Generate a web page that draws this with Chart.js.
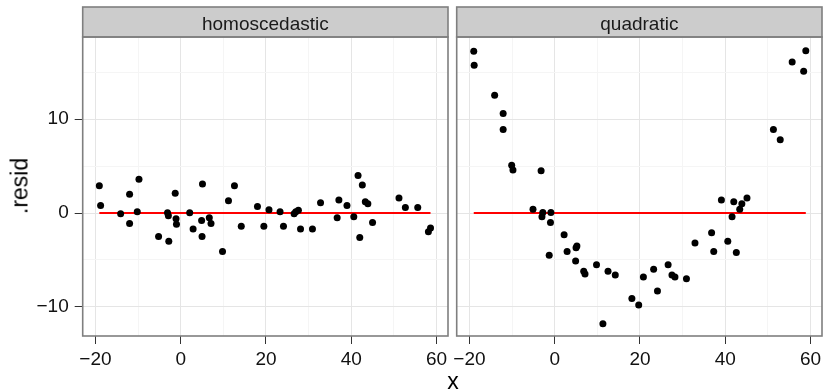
<!DOCTYPE html>
<html lang="en">
<head>
  <meta charset="UTF-8" />
  <title>Residuals: homoscedastic vs quadratic</title>
  <script src="https://cdn.jsdelivr.net/npm/chart.js"></script>
  <style>
    body {
      margin: 0;
      background: #fff;
      font-family: "Liberation Sans", Arial, sans-serif;
    }
    #wrap {
      position: relative;
      width: 826px;
      height: 391px;
      overflow: hidden;
    }
    canvas { position: absolute; top: 0; }
    #leftPanel { left: 0; }
    #rightPanel { left: 452px; }
    .axis-title {
      position: absolute;
      font-size: 23px;
      line-height: 23px;
      color: #000;
      white-space: nowrap;
    }
    #yTitle { left: 20px; top: 186px; transform: translate(-50%, -50%) rotate(-90deg); }
    #xTitle { left: 453px; top: 370px; transform: translateX(-50%); }
  </style>
</head>
<body>
  <div id="wrap">
    <canvas id="leftPanel" width="452" height="391"></canvas>
    <canvas id="rightPanel" width="374" height="391"></canvas>
    <div class="axis-title" id="yTitle">.resid</div>
    <div class="axis-title" id="xTitle">x</div>
  </div>

<script>
  // facet labels
  const panelLabels = ['homoscedastic', 'quadratic'];

  // homoscedastic panel
  const homoX = [-19.1, -18.8, -14.1, -12.0, -12.0, -10.2, -9.8, -5.2, -3.1, -2.9,
                 -2.8, -1.3, -1.1, -1.0, 2.1, 2.9, 4.9, 5.0, 5.1, 6.7,
                 7.1, 9.8, 11.2, 12.6, 14.2, 18.0, 19.5, 20.7, 23.3, 24.1,
                 26.6, 27.0, 27.6, 28.1, 30.9, 32.8, 36.7, 37.1, 39.0, 40.6,
                 41.6, 42.0, 42.6, 43.3, 43.9, 45.0, 51.2, 52.7, 55.6, 58.1, 58.6];
  const homoY = [2.9, 0.8, -0.07, 2.0, -1.1, 0.14, 3.6, -2.5, 0.03, -0.3,
                 -3.0, 2.1, -0.6, -1.2, 0.03, -1.7, -0.8, -2.5, 3.1, -0.5,
                 -1.1, -4.1, 1.3, 2.9, -1.4, 0.7, -1.4, 0.36, 0.14, -1.4,
                 -0.07, 0.14, 0.3, -1.7, -1.7, 1.1, -0.5, 1.4, 0.8, -0.4,
                 4.0, -2.6, 3.0, 1.2, 1.0, -1.0, 1.6, 0.6, 0.6, -2.0, -1.6];

  // quadratic panel
  const quadX = [-19.0, -18.9, -14.1, -12.1, -12.1, -10.1, -9.8, -5.1, -3.2, -3.0,
                 -2.8, -1.3, -1.0, -0.9, 2.2, 2.9, 4.9, 5.0, 5.2, 6.8,
                 7.1, 9.8, 11.3, 12.5, 14.2, 18.1, 19.7, 20.8, 23.2, 24.1,
                 26.6, 27.5, 28.2, 30.9, 32.9, 36.8, 37.3, 39.1, 40.6, 41.6,
                 42.0, 42.6, 43.4, 43.9, 45.1, 51.3, 52.9, 55.7, 58.4, 58.9];
  const quadY = [17.25, 15.75, 12.55, 10.6, 8.9, 5.1, 4.6, 0.4, 4.5, -0.4,
                 0.07, -4.5, -1.0, 0.07, -2.3, -4.1, -5.1, -3.7, -3.5, -6.2,
                 -6.5, -5.5, -11.8, -6.2, -6.6, -9.1, -9.8, -6.8, -6.0, -8.3,
                 -5.5, -6.6, -6.8, -7.0, -3.2, -2.1, -4.1, 1.4, -3.0, -0.4,
                 1.2, -4.2, 0.4, 1.0, 1.6, 8.9, 7.8, 16.1, 15.1, 17.3];

  // axis ticks
  const xMajor = [-20, 0, 20, 40, 60];
  const xMinor = [-10, 10, 30, 50];
  const yMajor = [-10, 0, 10];
  const yMinor = [-5, 5, 15];

  Chart.defaults.font.family = '"Liberation Sans", Arial, sans-serif';
  Chart.defaults.font.size = 19;
  Chart.defaults.color = '#111';

  const fmt = v => (v < 0 ? '\u2212' + Math.abs(v) : String(v));

  // grey strip on top + panel border, ggplot theme_bw style
  const facetFrame = {
    id: 'facetFrame',
    afterDraw(chart, args, opts) {
      const { ctx, chartArea: a } = chart;
      ctx.save();
      ctx.fillStyle = '#cccccc';
      ctx.fillRect(a.left, 7, a.right - a.left, a.top - 7);
      ctx.strokeStyle = '#7f7f7f';
      ctx.lineWidth = 1.6;
      ctx.strokeRect(a.left, 7, a.right - a.left, a.top - 7);
      ctx.strokeRect(a.left, a.top, a.right - a.left, a.bottom - a.top);
      ctx.fillStyle = '#1a1a1a';
      ctx.font = '19px "Liberation Sans", Arial, sans-serif';
      ctx.textAlign = 'center';
      ctx.textBaseline = 'alphabetic';
      ctx.fillText(opts.label, (a.left + a.right) / 2, 29.5);
      ctx.restore();
    }
  };

  function gridColor(major) {
    return ctx => (ctx.tick && major.includes(ctx.tick.value) ? '#e5e5e5' : '#f5f5f5');
  }
  function tickColor(major) {
    return ctx => (ctx.tick && major.includes(ctx.tick.value) ? '#333' : 'rgba(0,0,0,0)');
  }

  function makePanel(id, xs, ys, label, showYLabels, pad, yWidth) {
    const points = xs.map((x, i) => ({ x: x, y: ys[i] }));
    const lo = Math.min(...xs), hi = Math.max(...xs);

    return new Chart(document.getElementById(id), {
      type: 'scatter',
      data: {
        datasets: [
          {
            data: points,
            order: 0,
            backgroundColor: '#000',
            borderWidth: 0,
            pointRadius: 3.5
          },
          {
            type: 'line',
            data: [{ x: lo, y: 0 }, { x: hi, y: 0 }],
            order: 1,
            borderColor: '#ff0000',
            borderWidth: 2,
            pointRadius: 0,
            fill: false
          }
        ]
      },
      options: {
        responsive: false,
        animation: false,
        events: [],
        layout: { padding: pad },
        plugins: {
          legend: { display: false },
          tooltip: { enabled: false },
          facetFrame: { label: label }
        },
        scales: {
          x: {
            type: 'linear',
            min: -23.0,
            max: 62.7,
            border: { display: false },
            afterBuildTicks: s => {
              s.ticks = xMajor.concat(xMinor).sort((a, b) => a - b).map(v => ({ value: v }));
            },
            afterFit: s => { s.height = 55; s.paddingLeft = 0; s.paddingRight = 0; },
            grid: { color: gridColor(xMajor), tickColor: tickColor(xMajor), tickLength: 8, lineWidth: 1 },
            ticks: {
              autoSkip: false,
              maxRotation: 0,
              padding: 4,
              callback: v => (xMajor.includes(v) ? fmt(v) : '')
            }
          },
          y: {
            type: 'linear',
            min: -13.1,
            max: 18.76,
            border: { display: false },
            afterBuildTicks: s => {
              s.ticks = yMajor.concat(yMinor).sort((a, b) => a - b).map(v => ({ value: v }));
            },
            afterFit: s => { s.width = yWidth; s.paddingTop = 0; s.paddingBottom = 0; },
            grid: {
              color: gridColor(yMajor),
              tickColor: tickColor(yMajor),
              tickLength: 8,
              drawTicks: showYLabels,
              lineWidth: 1
            },
            ticks: {
              display: showYLabels,
              autoSkip: false,
              padding: 6,
              callback: v => (yMajor.includes(v) ? fmt(v) : '')
            }
          }
        }
      },
      plugins: [facetFrame]
    });
  }

  makePanel('leftPanel', homoX, homoY, panelLabels[0], true,
            { top: 37, right: 2, left: 0, bottom: 0 }, 82.7);
  makePanel('rightPanel', quadX, quadY, panelLabels[1], false,
            { top: 37, right: 2, left: 4.7, bottom: 0 }, 0);
</script>
</body>
</html>
